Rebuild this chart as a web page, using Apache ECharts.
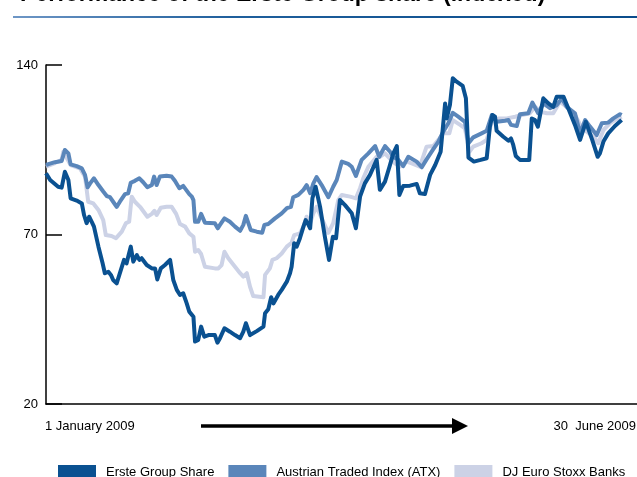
<!DOCTYPE html>
<html><head><meta charset="utf-8">
<script src="https://cdn.jsdelivr.net/npm/echarts@6/dist/echarts.min.js"></script>
<style>html,body{margin:0;padding:0;background:#fff}#c{width:637px;height:477px}</style>
</head><body><div id="c"></div>
<script>
const titleText = 'Performance of the Erste Group share (indexed)';
const seriesNames = ['Erste Group Share', 'Austrian Traded Index (ATX)', 'DJ Euro Stoxx Banks'];
const xLabels = ['1 January 2009', '30  June 2009'];
const yTickValues = [20, 80, 140];
const yTickLabels = ['20', '70', '140'];

// days since 1 January 2009 and indexed values
const ersteDays = [0,1.3,3.8,4.9,5.9,7.0,7.7,9.6,11.2,11.9,12.7,13.5,14.3,15.0,16.4,17.7,18.4,19.5,20.3,21.0,22.1,23.1,24.4,25.2,25.7,26.5,27.3,28.4,29.2,29.9,31.5,33.1,34.1,34.8,35.9,37.2,38.8,39.8,40.9,41.9,42.9,44.0,44.8,46.1,46.6,47.6,48.5,49.5,50.8,52.8,53.6,54.4,55.8,57.5,59.1,60.7,61.7,62.5,63.8,65.9,68.0,68.5,69.5,70.4,71.1,72.6,73.7,75.3,76.3,76.8,77.6,78.4,79.4,80.5,81.2,81.8,82.6,83.3,84.3,85.7,87.2,88.5,89.7,90.7,91.9,93.5,95.6,96.9,98.2,99.7,101.3,103.4,104.4,106.0,107.4,108.6,109.7,110.5,111.7,113.8,115.9,116.9,118.5,120.1,121.7,123.4,124.8,125.3,126.3,127.2,128.4,130.3,131.3,131.7,132.1,133.8,135.9,137.8,138.8,139.6,140.4,140.9,143.0,144.6,145.4,146.1,146.9,148.2,151.1,151.9,152.9,153.8,155.5,157.1,158.6,159.7,161.8,163.3,165.4,167.0,168.8,170.8,172.5,173.2,174.3,175.8,177.9,180.0];
const ersteValues = [101.7,99.3,96.9,96.6,102.2,99.3,92.8,92.0,91.0,86.9,84.0,86.3,84.5,82.8,75.7,69.8,66.3,66.8,65.7,63.9,62.7,66.3,71.0,69.8,72.1,75.7,70.4,72.7,71.0,71.6,69.2,68.0,68.0,64.1,68.0,69.2,71.0,63.9,60.4,58.6,59.2,55.6,52.7,50.9,42.1,42.7,47.4,43.8,44.4,44.4,41.7,43.3,46.8,45.6,44.4,43.3,45.6,48.6,44.4,45.8,47.4,52.1,53.5,57.8,55.6,58.6,60.4,63.3,66.3,68.6,76.9,75.7,78.7,82.8,85.1,84.0,82.2,92.8,96.9,89.8,79.2,71.0,79.2,78.7,92.2,90.4,87.5,82.2,93.4,98.1,101.1,106.4,95.8,98.7,104.0,108.7,111.3,94.0,97.2,97.3,97.9,94.6,94.3,101.1,104.6,109.3,126.4,121.1,125.8,135.3,134.1,132.6,128.2,118.2,107.2,105.8,106.4,107.0,118.2,122.3,121.7,116.7,114.6,113.2,114.0,111.7,107.8,106.4,106.4,121.1,120.5,118.2,128.2,126.4,125.2,128.8,128.8,124.7,118.8,113.5,119.9,113.5,107.5,108.7,112.9,115.8,118.4,120.5];

const atxDays = [0,1.0,2.8,4.9,5.9,7.0,7.7,9.6,11.2,12.2,13.0,13.8,15.0,16.4,17.9,19.0,20.0,21.0,22.1,23.1,24.7,25.7,26.5,27.8,29.2,30.4,31.7,33.1,33.8,34.6,35.6,37.7,39.3,40.3,41.7,42.9,44.8,45.6,46.1,46.6,47.6,48.5,49.7,52.8,53.7,54.4,55.8,57.5,59.1,60.7,61.7,62.5,64.0,65.9,67.6,68.3,69.5,71.6,73.7,75.3,76.6,77.3,78.9,80.5,81.5,82.6,83.6,84.6,86.2,88.3,89.8,90.9,92.5,94.5,95.6,96.9,98.7,100.8,102.9,104.2,106.0,107.6,108.6,110.2,111.7,113.3,115.9,117.5,119.0,121.1,122.7,124.2,125.8,127.2,128.9,131.0,132.1,133.6,136.2,137.8,139.4,140.9,143.5,144.6,145.4,147.2,148.2,150.8,152.1,153.9,155.5,157.6,159.7,161.3,162.8,165.4,167.0,168.6,170.1,172.2,173.8,175.8,177.4,179.5,180.0];
const atxValues = [104.6,105.0,105.6,106.0,109.9,108.7,104.8,104.2,103.4,101.1,96.7,98.1,99.9,97.5,95.2,93.6,93.2,91.6,89.8,91.6,94.3,94.6,98.3,99.0,99.9,98.5,96.7,97.5,100.5,97.5,100.5,100.8,100.5,99.0,96.4,97.2,94.3,93.4,92.2,84.5,84.5,87.3,84.2,84.0,82.2,83.4,85.7,84.5,82.8,81.3,83.4,86.6,81.6,81.0,80.6,83.4,83.7,85.7,87.5,89.3,89.8,93.2,94.0,95.8,97.5,94.6,98.1,100.3,97.5,93.2,96.9,99.3,105.8,105.0,104.0,100.7,106.4,108.7,111.3,107.5,111.3,109.3,107.5,106.4,104.2,107.5,105.8,103.8,106.6,110.2,112.9,116.4,119.4,123.1,121.7,119.9,112.3,114.4,115.8,116.7,122.3,119.9,120.3,120.5,118.8,118.4,122.6,122.9,126.7,122.9,126.4,124.7,125.8,128.2,125.2,122.9,115.8,120.5,118.2,115.2,119.4,119.6,121.1,122.6,122.3];

const banksDays = [0,2.8,4.9,5.4,7.7,10.6,12.2,13.2,14.8,16.4,17.9,18.7,20.5,21.9,23.7,25.0,26.0,26.8,27.8,29.4,31.7,33.1,33.9,34.6,35.9,37.7,39.3,40.7,41.9,43.5,44.8,46.1,46.6,47.6,48.5,49.7,52.8,53.9,54.9,55.8,57.0,59.1,60.7,61.7,62.8,63.8,64.8,68.0,68.5,70.0,70.8,72.1,73.7,75.3,76.8,77.6,79.4,80.5,81.5,82.6,83.6,84.6,86.2,88.3,89.8,91.4,92.5,95.1,96.9,98.2,99.2,100.8,103.4,104.4,106.0,107.4,109.1,110.7,112.8,114.4,116.9,119.0,121.1,122.7,124.2,126.1,127.2,129.5,131.0,132.4,133.6,136.2,137.8,139.4,141.4,144.1,146.7,148.8,151.3,152.9,154.5,156.6,158.6,160.7,162.8,165.4,167.6,169.1,171.2,172.7,174.3,176.4,177.9,180.0];
const banksValues = [104.0,105.3,106.4,109.3,104.6,103.4,100.5,91.6,91.0,88.7,85.1,79.8,79.5,78.7,81.0,84.0,84.5,93.4,91.6,89.8,86.3,87.3,88.4,86.9,89.5,89.8,89.8,87.3,83.7,82.8,80.4,79.2,73.9,74.5,73.1,68.6,68.0,68.0,69.2,73.9,71.6,68.6,66.3,65.1,66.3,61.5,58.2,57.8,65.7,68.0,71.0,71.6,73.3,75.7,77.1,79.8,80.4,82.8,86.3,84.0,87.5,89.8,85.7,80.6,84.0,92.2,94.0,93.4,92.8,96.4,99.9,104.0,107.5,107.5,108.7,107.0,105.2,104.0,105.8,105.2,104.0,111.1,111.3,113.5,115.8,115.8,120.5,118.8,117.6,109.3,111.1,112.3,113.5,119.9,121.1,121.1,121.7,122.3,122.9,125.2,123.5,122.9,122.9,127.0,125.2,122.3,117.6,116.4,114.6,112.3,117.0,119.4,120.5,121.7];

const colors = ['#0a5191', '#5a86ba', '#ccd2e6'];
const FONT = '"Liberation Sans", Arial, sans-serif';

function pairs(days, vals) { return days.map((d, i) => [d, vals[i]]); }

const chart = echarts.init(document.getElementById('c'));
const lineSeries = (name, days, vals, color, z) => ({
  name, type: 'line', data: pairs(days, vals), showSymbol: false, symbol: 'none',
  lineStyle: { color, width: 4, join: 'round' }, itemStyle: { color }, z
});

chart.setOption({
  animation: false,
  grid: { left: 46, right: 0, top: 65, bottom: 73 },
  xAxis: {
    type: 'value', min: 0, max: 184.8,
    axisLine: { show: true, lineStyle: { color: '#000', width: 1.5 } },
    axisTick: { show: false }, axisLabel: { show: false }, splitLine: { show: false }
  },
  yAxis: {
    type: 'value', min: 20, max: 140, interval: 60,
    axisLine: { show: true, lineStyle: { color: '#000', width: 1.5 } },
    axisTick: { show: true, inside: true, length: 16, lineStyle: { color: '#000', width: 1.5 } },
    axisLabel: {
      margin: 8, fontSize: 13, color: '#000', fontFamily: FONT,
      formatter: v => { const i = yTickValues.indexOf(v); return i >= 0 ? yTickLabels[i] : ''; }
    },
    splitLine: { show: false }
  },
  legend: {
    data: seriesNames, left: 53, top: 460, icon: 'rect',
    itemWidth: 38, itemHeight: 14, itemGap: 14,
    textStyle: { fontSize: 13, color: '#000', fontFamily: FONT, padding: [0, 0, 0, 5] }
  },
  series: [
    lineSeries(seriesNames[2], banksDays, banksValues, colors[2], 1),
    lineSeries(seriesNames[1], atxDays, atxValues, colors[1], 2),
    lineSeries(seriesNames[0], ersteDays, ersteValues, colors[0], 3)
  ],
  graphic: [
    { type: 'text', x: 20, y: 6, style: { text: titleText, font: 'bold 23px ' + FONT, fill: '#000', align: 'left', verticalAlign: 'bottom' } },
    { type: 'line', shape: { x1: 13, y1: 17, x2: 637, y2: 17 },
      style: { lineWidth: 2, stroke: new echarts.graphic.LinearGradient(0, 0, 1, 0, [
        { offset: 0, color: '#6f97c6' }, { offset: 0.35, color: '#1f5f9c' }, { offset: 1, color: '#0a4c8b' }]) } },
    { type: 'text', x: 45, y: 426, style: { text: xLabels[0], font: '13px ' + FONT, fill: '#000', align: 'left', verticalAlign: 'middle' } },
    { type: 'text', x: 636, y: 426, style: { text: xLabels[1], font: '13px ' + FONT, fill: '#000', align: 'right', verticalAlign: 'middle' } },
    { type: 'line', shape: { x1: 201, y1: 426, x2: 455, y2: 426 }, style: { stroke: '#000', lineWidth: 3.5 } },
    { type: 'polygon', shape: { points: [[452, 418], [468, 426], [452, 434]] }, style: { fill: '#000' } }
  ]
});
</script>
</body></html>
